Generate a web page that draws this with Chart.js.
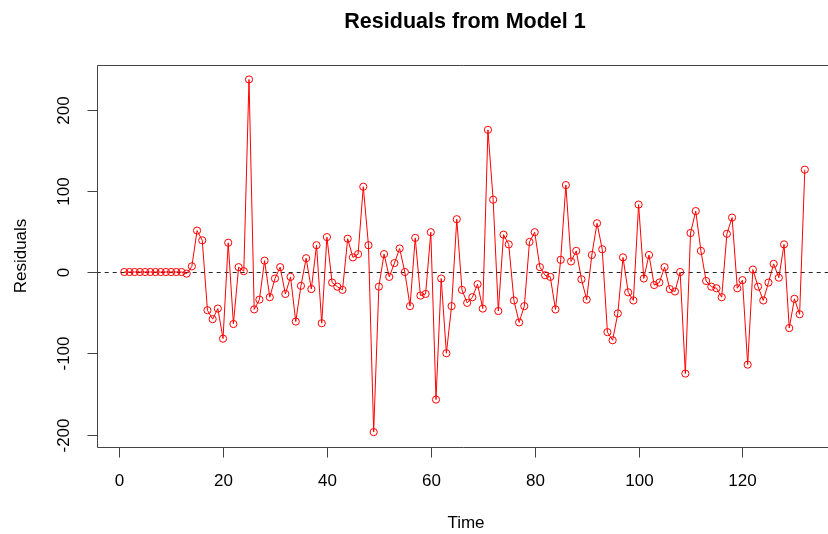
<!DOCTYPE html>
<html>
<head>
<meta charset="utf-8">
<script src="https://cdn.jsdelivr.net/npm/chart.js@4.4.1/dist/chart.umd.min.js"></script>
<style>
  html, body { margin: 0; padding: 0; background: #fff; }
  #wrap { width: 828px; height: 534px; }
</style>
</head>
<body>
<div id="wrap"><canvas id="resid" width="828" height="534"></canvas></div>
<script>
// Residuals, time 1..132
var residuals = [
  0, 0, 0, 0, 0, 0, 0, 0, 0, 0, 0, 0,
  -2, 7, 51, 39, -47, -58, -45, -82, 36, -64,
  6, 1, 237, -46, -34, 14, -31, -8, 6, -27,
  -6, -61, -17, 17, -21, 33, -63, 43, -13, -18,
  -22, 41, 18, 22, 105, 33, -197, -18, 22, -6,
  11, 29, 0, -42, 42, -29, -27, 49, -157, -8,
  -100, -42, 65, -22, -38, -31, -15, -45, 175, 89,
  -48, 46, 34, -35, -62, -42, 37, 49, 6, -4,
  -6, -46, 15, 107, 13, 26, -9, -34, 21, 60,
  28, -74, -84, -51, 18, -25, -35, 83, -8, 21,
  -16, -13, 6, -21, -24, 0, -125, 48, 75, 26,
  -11, -18, -20, -31, 47, 67, -20, -10, -114, 3,
  -18, -35, -13, 10, -7, 34, -69, -33, -52, 126
];
var xTicks = [0, 20, 40, 60, 80, 100, 120];
var yTicks = [-200, -100, 0, 100, 200];

var points = residuals.map(function (v, i) {
  return { x: i + 1, y: v };
});

var FONT = '"Liberation Sans", Arial, sans-serif';

// R style frame, ticks, labels and the dashed zero line
var rAxes = {
  id: 'rAxes',
  beforeDatasetsDraw: function (chart) {
    var ctx = chart.ctx, area = chart.chartArea;
    var y0 = Math.round(chart.scales.y.getPixelForValue(0)) + 0.5;
    ctx.save();
    ctx.strokeStyle = '#222';
    ctx.lineWidth = 1;
    ctx.setLineDash([4, 4]);
    ctx.beginPath();
    ctx.moveTo(area.left, y0);
    ctx.lineTo(chart.width + 2, y0);
    ctx.stroke();
    ctx.restore();
  },
  afterDraw: function (chart) {
    var ctx = chart.ctx, area = chart.chartArea;
    var xs = chart.scales.x, ys = chart.scales.y;
    var L = Math.round(area.left) + 0.5, T = Math.round(area.top) + 0.5, B = Math.round(area.bottom) + 0.5;
    ctx.save();
    ctx.strokeStyle = '#444';
    ctx.lineWidth = 1;
    ctx.beginPath();
    ctx.moveTo(chart.width + 5, T);
    ctx.lineTo(L, T);
    ctx.lineTo(L, B);
    ctx.lineTo(chart.width + 5, B);
    ctx.stroke();

    ctx.fillStyle = '#000';
    ctx.font = '17px ' + FONT;
    // x ticks
    ctx.textAlign = 'center';
    ctx.textBaseline = 'middle';
    xTicks.forEach(function (t) {
      var px = Math.round(xs.getPixelForValue(t)) + 0.5;
      ctx.beginPath();
      ctx.moveTo(px, B);
      ctx.lineTo(px, B + 10);
      ctx.stroke();
      ctx.fillText(String(t), px, 481);
    });
    // y ticks, labels rotated
    yTicks.forEach(function (t) {
      var py = Math.round(ys.getPixelForValue(t)) + 0.5;
      ctx.beginPath();
      ctx.moveTo(L - 10, py);
      ctx.lineTo(L, py);
      ctx.stroke();
      ctx.save();
      ctx.translate(64, py);
      ctx.rotate(-Math.PI / 2);
      ctx.fillText(String(t), 0, 0);
      ctx.restore();
    });

    // axis titles
    ctx.fillText('Time', 466, 523);
    ctx.save();
    ctx.translate(21, 256);
    ctx.rotate(-Math.PI / 2);
    ctx.fillText('Residuals', 0, 0);
    ctx.restore();

    // main title
    ctx.font = 'bold 21.5px ' + FONT;
    ctx.fillText('Residuals from Model 1', 465, 22);
    ctx.restore();
  }
};

var ctxResid = document.getElementById('resid');
var residChart = new Chart(ctxResid, {
  type: 'line',
  data: {
    datasets: [{
      label: 'Residuals',
      data: points,
      borderColor: '#ff0000',
      backgroundColor: 'rgba(0,0,0,0)',
      borderWidth: 1,
      lineTension: 0,
      fill: false,
      pointStyle: 'circle',
      pointRadius: 3.6,
      pointBorderWidth: 1,
      pointBorderColor: '#ff0000',
      pointBackgroundColor: 'rgba(0,0,0,0)'
    }]
  },
  options: {
    responsive: false,
    animation: false,
    devicePixelRatio: 1,
    layout: { padding: { left: 96.7, top: 65, right: 0, bottom: 87.3 } },
    plugins: { legend: { display: false }, title: { display: false }, tooltip: { enabled: false } },
    scales: {
      x: { type: 'linear', display: false, min: -4.32, max: 135.5 },
      y: { type: 'linear', display: false, min: -215, max: 254.8 }
    }
  },
  plugins: [rAxes]
});
</script>
</body>
</html>
